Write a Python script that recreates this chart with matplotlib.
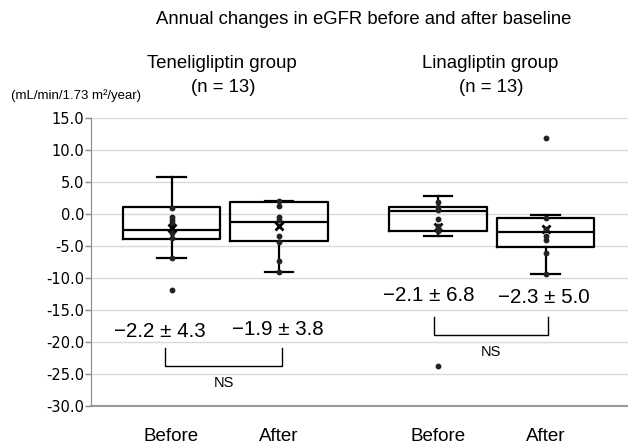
import numpy as np
import matplotlib
matplotlib.use("Agg")
from matplotlib import pyplot as plt

plt.rcParams['font.family'] = ['Liberation Sans', 'DejaVu Sans']

# 群ごとの値
labels = ['Before', 'After', 'Before', 'After']
positions = [1.0, 2.0, 3.48, 4.48]
q1 = [-3.86, -4.27, -2.70, -5.10]
med = [-2.45, -1.20, 0.47, -2.86]
q3 = [1.05, 1.92, 1.10, -0.57]
whislo = [-6.9, -9.1, -3.44, -9.4]
whishi = [5.8, 2.1, 2.8, -0.2]
means = [-2.2, -1.9, -2.1, -2.3]
points = [
    [1.0, -0.5, -0.9, -1.35, -2.9, -3.8, -6.9, -11.8],
    [2.1, 1.25, -0.5, -1.0, -3.45, -4.4, -7.4, -9.1],
    [1.9, 1.05, 0.6, -0.85, -1.9, -2.3, -2.7, -23.7],
    [11.8, -0.6, -2.3, -3.5, -4.1, -6.1, -9.4],
]
sd = [4.3, 3.8, 6.8, 5.0]
yticks = np.arange(-30, 15.1, 5)

fig = plt.figure(figsize=(6.28, 4.47), dpi=100)
ax = fig.add_axes([91/628, 1-406/447, 1-91/628, (406-118)/447])

stats = []
for i in range(4):
    stats.append(dict(q1=q1[i], med=med[i], q3=q3[i], whislo=whislo[i],
                      whishi=whishi[i], mean=means[i], label=labels[i]))

lw = 1.6
ax.bxp(stats, positions=positions, widths=0.91, capwidths=0.265,
       showmeans=True, showfliers=False, manage_ticks=False,
       boxprops=dict(color='black', linewidth=lw),
       whiskerprops=dict(color='black', linewidth=lw),
       capprops=dict(color='black', linewidth=lw),
       medianprops=dict(color='black', linewidth=lw),
       meanprops=dict(marker='x', markeredgecolor='black', markersize=6,
                      markeredgewidth=2, linestyle='none'))

for pos, p in zip(positions, points):
    ax.plot(np.full(len(p), pos), p, 'o', ms=3.2, color='#222222', zorder=4)

# 平均 ± SD
txt_xy = [(0.893, -18.4), (1.986, -18.1), (3.395, -12.66), (4.465, -13.1)]
for (x, y), m, s in zip(txt_xy, means, sd):
    ax.text(x, y, '\u2212%.1f \u00b1 %.1f' % (abs(m), s), ha='center', va='center',
            fontsize=14.8)

# NS
for x0, x1, ytop, ybot in [(0.94, 2.03, -21.0, -23.7), (3.44, 4.505, -16.1, -18.9)]:
    ax.plot([x0, x0, x1, x1], [ytop, ybot, ybot, ytop], color='black', lw=1)
    ax.text((x0+x1)/2, ybot-2.7, 'NS', ha='center', va='center', fontsize=10.5)

ax.set_xlim(0.251, 5.247)
ax.set_ylim(-30, 15)
ax.set_yticks(yticks)
ax.set_yticklabels(['%.1f' % v for v in yticks], family='DejaVu Sans', fontsize=10.5)
ax.set_xticks(positions)
ax.set_xticklabels(labels, fontsize=13.5)
ax.tick_params(axis='x', length=0, pad=16)
ax.tick_params(axis='y', length=4, width=1, color='#888888', pad=1)
ax.grid(axis='y', color='#d9d9d9', lw=1)
ax.set_axisbelow(True)
for s in ['top', 'right']:
    ax.spines[s].set_visible(False)
ax.spines['left'].set_color('#888888')
ax.spines['bottom'].set_color('#999999')
ax.spines['bottom'].set_linewidth(1.5)

fig.text(364/628, 1-20/447, 'Annual changes in eGFR before and after baseline',
         ha='center', va='center', fontsize=13.3)
fig.text(222/628, 1-63/447, 'Teneligliptin group', ha='center', va='center', fontsize=13.4)
fig.text(223/628, 1-88/447, '(n = 13)', ha='center', va='center', fontsize=13.4)
fig.text(490/628, 1-63/447, 'Linagliptin group', ha='center', va='center', fontsize=13.4)
fig.text(491/628, 1-88/447, '(n = 13)', ha='center', va='center', fontsize=13.4)
fig.text(76/628, 1-96/447, '(mL/min/1.73 m\u00b2/year)', ha='center', va='center', fontsize=9.5)

plt.savefig('out.png', dpi=100)
